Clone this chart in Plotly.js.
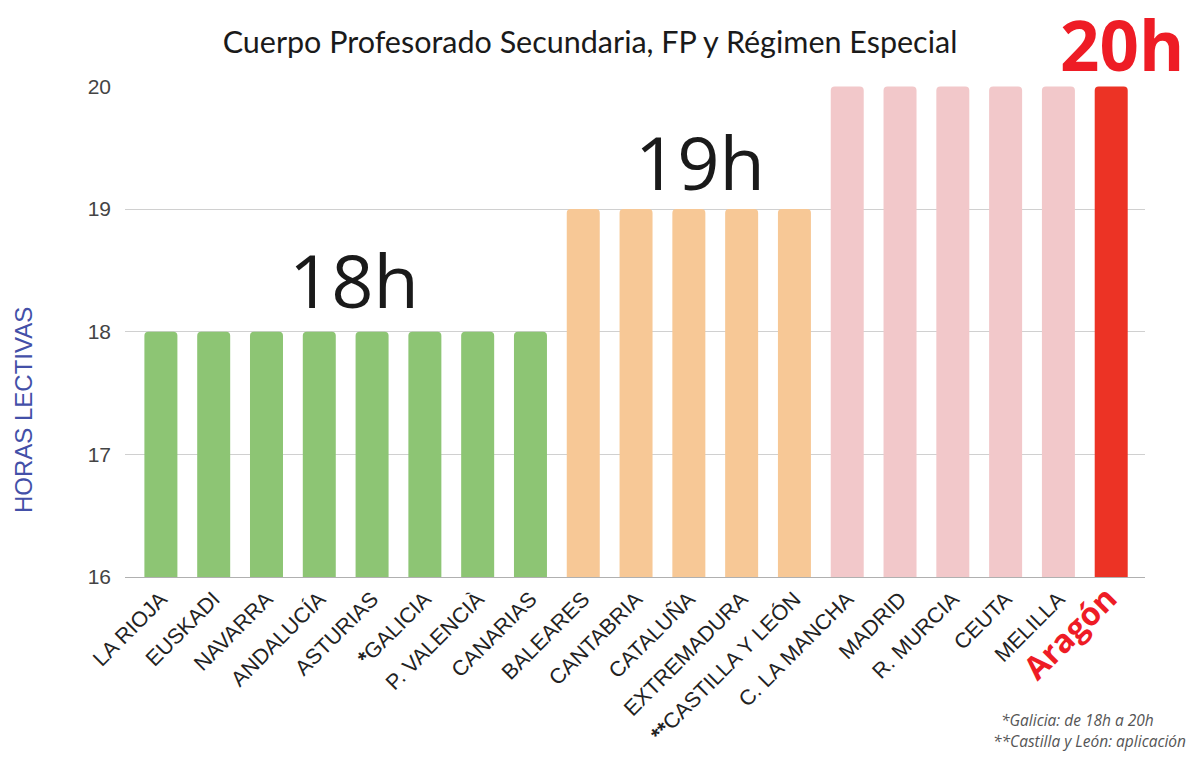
<!DOCTYPE html>
<html>
<head>
<meta charset="utf-8">
<script src="https://cdn.plot.ly/plotly-3.0.1.min.js"></script>
<style>html,body{margin:0;padding:0;background:#fff;}#chart{width:1192px;height:757px;}</style>
</head>
<body>
<div id="chart"></div>
<script>
// ---- data ----
const regions = ["LA RIOJA","EUSKADI","NAVARRA","ANDALUCÍA","ASTURIAS","*GALICIA","P. VALENCIÀ","CANARIAS",
  "BALEARES","CANTABRIA","CATALUÑA","EXTREMADURA","**CASTILLA Y LEÓN",
  "C. LA MANCHA","MADRID","R. MURCIA","CEUTA","MELILLA","Aragón"];
const hours = [18,18,18,18,18,18,18,18, 19,19,19,19,19, 20,20,20,20,20,20];
const yTicks = [16,17,18,19,20];
const groupLabels = ["18h","19h","20h"];
const groupHours = [18,19,20];
const highlight = "Aragón";
const chartTitle = "Cuerpo Profesorado Secundaria, FP y Régimen Especial";
const yTitle = "HORAS LECTIVAS";
const notes = ["*Galicia: de 18h a 20h","**Castilla y León: aplicación"];

// ---- styles ----
const palette = {18:"#8dc574", 19:"#f7c896", 20:"#f2c8ca"};
const highlightColor = "#ec3325";
const colors = regions.map((r,i)=> r===highlight ? highlightColor : palette[hours[i]]);
const tickText = regions.map(r=>{
  if (r===highlight) return '<span style="font-family:Open Sans;font-weight:bold;font-size:32px;fill:#ee1c25;color:#ee1c25">'+r+'</span>';
  const m = r.match(/^(\*+)(.*)$/);
  if (m) return '<b>'+m[1]+'</b>'+m[2];
  return r;
});

const trace = {
  type:"bar", x:regions.map((r,i)=>i), y:hours,
  marker:{color:colors, cornerradius:4, line:{width:0}},
  hoverinfo:"x+y"
};

// plot geometry (px) used to place paper-referenced notes
const P = {l:125, r:1145, t:86, b:577};
const px = x => (x-P.l)/(P.r-P.l);
const py = y => (P.b-y)/(P.b-P.t);

const groupIdx = groupHours.map(h=>hours.map((v,i)=>v===h?i:-1).filter(i=>i>=0));
const mid = a => (a[0]+a[a.length-1])/2;

const annotations = [
  {text:groupLabels[0], x:mid(groupIdx[0])+0.15, y:18.43, xref:"x", yref:"y",
   showarrow:false, font:{family:"Open Sans", size:74, color:"#1a1a1a"}},
  {text:groupLabels[1], x:mid(groupIdx[1])+0.22, y:19.39, xref:"x", yref:"y",
   showarrow:false, font:{family:"Open Sans", size:74, color:"#1a1a1a"}},
  {text:"<b>"+groupLabels[2]+"</b>", x:px(1186), y:py(44), xref:"paper", yref:"paper", xanchor:"right", yanchor:"middle",
   showarrow:false, font:{family:"Open Sans", size:69, color:"#ee1c25"}},
  {text:"<i>"+notes[0]+"</i>", x:px(999), y:py(720), xref:"paper", yref:"paper", xanchor:"left", yanchor:"middle", showarrow:false,
   font:{family:"Open Sans", size:15.5, color:"#555"}},
  {text:"<i>"+notes[1]+"</i>", x:px(991), y:py(741), xref:"paper", yref:"paper", xanchor:"left", yanchor:"middle", showarrow:false,
   font:{family:"Open Sans", size:15.5, color:"#555"}},
  {text:yTitle, x:px(23), y:py(410), xref:"paper", yref:"paper", textangle:-90, xanchor:"center", yanchor:"middle", showarrow:false,
   font:{family:"Liberation Sans, Arial", size:24, color:"#4350a8"}}
];

const layout = {
  width:1192, height:757,
  margin:{l:P.l, r:1192-P.r, t:P.t, b:757-P.b, autoexpand:false},
  paper_bgcolor:"#fff", plot_bgcolor:"#fff",
  showlegend:false,
  bargap:0.375,
  title:{text:chartTitle, x:590/1192, xref:"container", xanchor:"center", y:1-42/757, yanchor:"middle",
    font:{family:"Lato", size:30.5, color:"#1a1a1a"}},
  xaxis:{
    range:[-0.68,18.64], tickvals:regions.map((r,i)=>i), ticktext:tickText, tickangle:-45,
    tickfont:{family:"Liberation Sans, Arial", size:21.5, color:"#222"},
    showgrid:false, zeroline:false, showline:true, linecolor:"#b0b0b0", linewidth:1, ticks:"", fixedrange:true
  },
  yaxis:{
    range:[16,20.004], tickvals:yTicks, ticktext:yTicks.map(String),
    tickfont:{family:"Liberation Sans, Arial", size:21, color:"#444"},
    gridcolor:"#d0d0d0", gridwidth:1, zeroline:false, showline:false, ticks:"", ticklabelstandoff:13
  },
  annotations:annotations
};
Plotly.newPlot("chart",[trace],layout,{displayModeBar:false, staticPlot:true});
</script>
</body>
</html>
